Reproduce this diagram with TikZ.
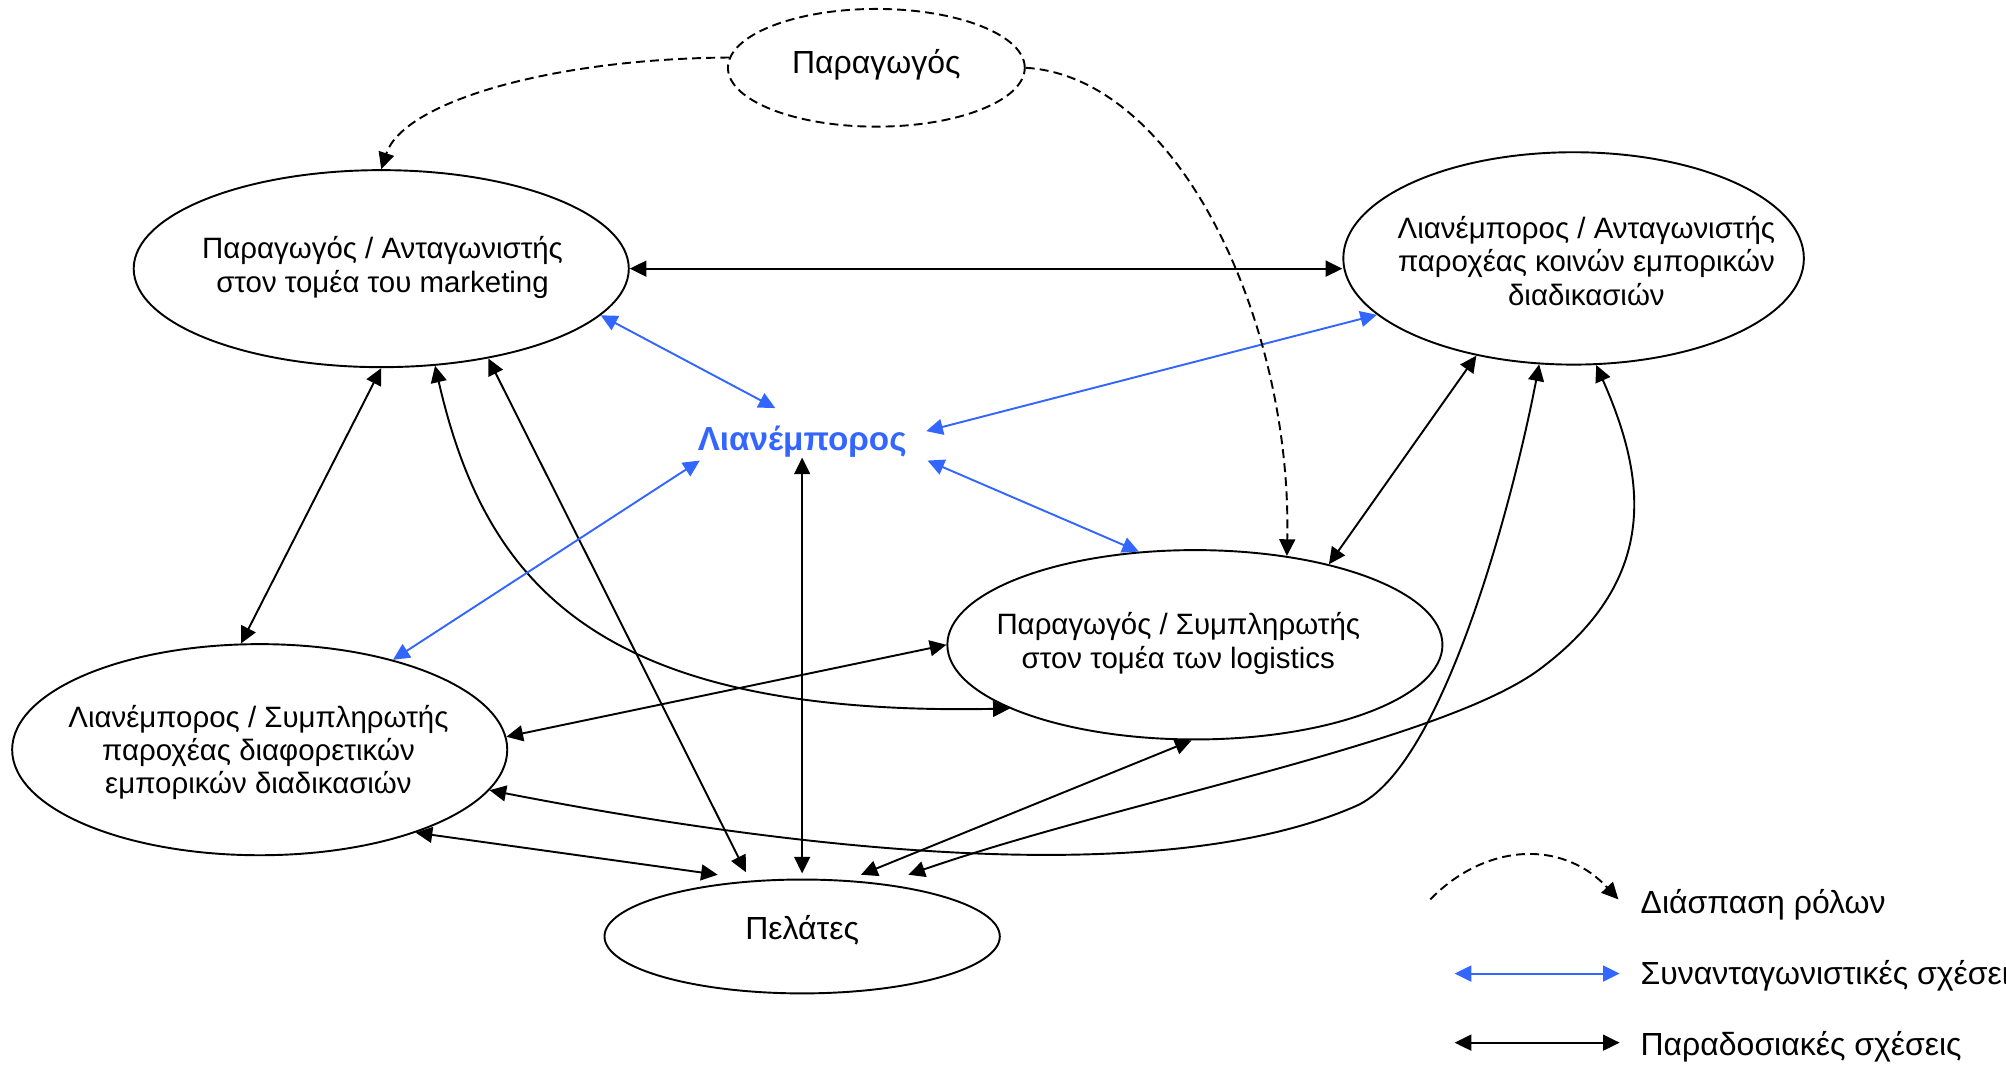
\documentclass[tikz,border=0pt]{standalone}
\usepackage{fontspec}
\setmainfont{Liberation Sans}
\usetikzlibrary{arrows.meta,shapes.geometric,calc}
\definecolor{rivalblue}{RGB}{51,102,255}

\begin{document}
\begin{tikzpicture}[x=0.5pt,y=-0.5pt,
  >={Triangle[length=6.5pt,width=6.2pt]},
  role/.style={draw,ellipse,line width=0.75pt,inner sep=0pt},
  caption/.style={align=center,font=\fontsize{11.5}{13}\selectfont,inner sep=0pt},
  word/.style={font=\fontsize{12.5}{14}\selectfont,inner sep=0pt},
  trad/.style={<->,line width=0.75pt,black},
  rival/.style={<->,line width=0.75pt,rivalblue},
  splitdash/.style={dash pattern=on 3.5pt off 2pt},
  split/.style={->,line width=0.75pt,splitdash},
]
\useasboundingbox (0,0) rectangle (1568,838);
\clip (0,0) rectangle (1568,838);

% actors
\node[role,splitdash,minimum width=116pt,minimum height=46pt] (P) at (685,53) {};
\node[role,minimum width=193.5pt,minimum height=77pt] (M) at (298,210) {};
\node[role,minimum width=180pt,minimum height=83pt] (R) at (1230,202) {};
\node[role,minimum width=193.5pt,minimum height=74pt] (L) at (934,504) {};
\node[role,minimum width=193.5pt,minimum height=82.5pt] (S) at (203,586) {};
\node[role,minimum width=154.5pt,minimum height=44.5pt] (C) at (627,732) {};

% captions
\node[word] (Pt) at (685,51) {Παραγωγός};
\node[caption] (Mt) at (299,209) {Παραγωγός / Ανταγωνιστής\\στον τομέα του marketing};
\node[caption] (Rt) at (1240,204) {Λιανέμπορος / Ανταγωνιστής\\παροχέας κοινών εμπορικών\\διαδικασιών};
\node[caption] (Lt) at (921,503) {Παραγωγός / Συμπληρωτής\\στον τομέα των logistics};
\node[caption] (St) at (202,588) {Λιανέμπορος / Συμπληρωτής\\παροχέας διαφορετικών\\εμπορικών διαδικασιών};
\node[word] (Ct) at (627,727) {Πελάτες};
\node[font=\fontsize{13}{15}\selectfont\bfseries,text=rivalblue,inner sep=0pt] (X) at (627,345) {Λιανέμπορος};

% traditional relations
\draw[trad] (M.east) -- (M.east -| R.west);
\draw[trad] (M.south) -- (S.100);
\draw[trad] (M.299) .. controls (380,460) and (470,560) .. (L.199);
\draw[trad] (M.-40) -- ($(C.north)+(-44,-5)$);
\draw[trad] (X.south) -- ($(C.north)+(0,-4)$);
\draw[trad] (S.3) -- (L.west);
\draw[trad] (S.-28) -- ($(C.north)+(-66,-3)$);
\draw[trad] (S.-10) .. controls (600,660) and (900,700) .. (1060,630)
                    .. controls (1130,599) and (1185,380) .. (R.-108);
\draw[trad] (R.-135) -- (L.31);
\draw[trad] (R.-78) .. controls (1285,370) and (1300,450) .. (1205,522)
                    .. controls (1129,580) and (880,625) .. ($(C.north)+(83,-3)$);
\draw[trad] (L.268) -- ($(C.north)+(46,-3)$);

% competitive relations
\draw[rival] (M.-12) -- ($(X.center)+(-21,-26)$);
\draw[rival] (R.196) -- ($(X.center)+(97,-8)$);
\draw[rival] ($(X.center)+(98,15)$) -- (L.121);
\draw[rival] ($(X.center)+(-80,15)$) -- (S.34);

% role split
\draw[split] (P.176) .. controls (430,46) and (315,80) .. (M.north);
\draw[split] (P.east) .. controls (920,60) and (1010,250) .. (L.44);

% key
\coordinate (k1a) at (1118,703);
\coordinate (k1b) at (1265,703);
\draw[split] (k1a) .. controls (1160,660) and (1220,655) .. (k1b);
\node[word,anchor=west] (k1t) at (1282,707) {Διάσπαση ρόλων};
\coordinate (k2a) at (1137,761);
\coordinate (k2b) at (1266,761);
\draw[rival] (k2a) -- (k2b);
\node[word,anchor=west] (k2t) at (1282,763) {Συνανταγωνιστικές σχέσεις};
\coordinate (k3a) at (1137,815);
\coordinate (k3b) at (1266,815);
\draw[trad] (k3a) -- (k3b);
\node[word,anchor=west] (k3t) at (1282,818) {Παραδοσιακές σχέσεις};
\end{tikzpicture}
\end{document}
